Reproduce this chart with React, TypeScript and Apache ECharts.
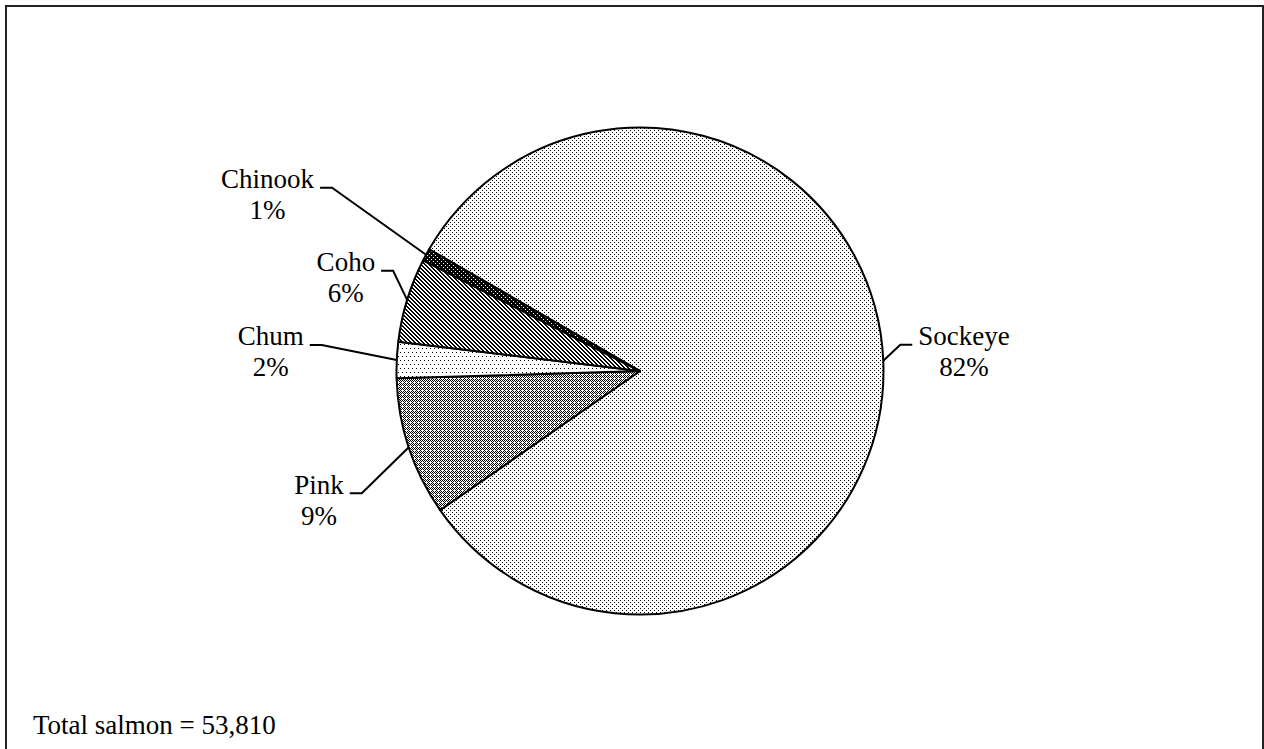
import React, { useEffect, useRef } from "react";
import * as echarts from "echarts";

// ---- data ----
const SPECIES = ["Sockeye", "Pink", "Chum", "Coho", "Chinook"];
const COUNTS = [44120, 4950, 1290, 3010, 440];
const TOTAL_CAPTION = "Total salmon";

// ---- fill patterns (1 = black pixel) ----
const PATTERN_ROWS: string[][] = [
  ["1000", "0000", "0010", "0000"], // Sockeye: fine dots
  ["1010", "0101", "1000", "0101"], // Pink: dense diamond lattice
  ["1000", "0000", "0000", "0000", "0010", "0000", "0000", "0000"], // Chum: sparse dots
  ["1100", "0110", "0011", "1001"], // Coho: downward diagonal stripes
  ["1111", "1011", "1111", "1110"], // Chinook: dark with white dots
];

// leader elbow offsets from the slice's edge anchor (label placement)
const LEADER_ELBOW: number[][] = [
  [17, -16],
  [-47, 46],
  [-75, -15],
  [-14, -29],
  [-94, -67],
];
const LEN2 = 12;
const GAP = 6;
const BASELINE_SHIFT = 7;

const FONT = "'Liberation Serif', 'Times New Roman', serif";

function makePattern(rows: string[]) {
  const h = rows.length;
  const w = rows[0].length;
  const c = document.createElement("canvas");
  c.width = w;
  c.height = h;
  const ctx = c.getContext("2d")!;
  ctx.fillStyle = "#ffffff";
  ctx.fillRect(0, 0, w, h);
  ctx.fillStyle = "#000000";
  for (let y = 0; y < h; y++) {
    for (let x = 0; x < w; x++) {
      if (rows[y][x] === "1") ctx.fillRect(x, y, 1, 1);
    }
  }
  return { image: c.toDataURL(), repeat: "repeat", imageWidth: w, imageHeight: h } as any;
}

export default function App() {
  const ref = useRef<HTMLDivElement>(null);
  useEffect(() => {
    document.body.style.margin = "0";
    document.body.style.overflow = "hidden";
    if (!ref.current) return;
    const chart = echarts.init(ref.current, null, { renderer: "svg" });
    const total = COUNTS.reduce((a, b) => a + b, 0);
    const patterns = PATTERN_ROWS.map(makePattern);

    chart.setOption({
      animation: false,
      backgroundColor: "#ffffff",
      graphic: [
        {
          type: "rect",
          silent: true,
          z: 0,
          shape: { x: 6, y: 6, width: 1257, height: 800 },
          style: { fill: "none", stroke: "#222222", lineWidth: 2 },
        },
        {
          type: "text",
          silent: true,
          x: 33,
          y: 725,
          style: {
            text: `${TOTAL_CAPTION} = ${total.toLocaleString("en-US")}`,
            font: `27px ${FONT}`,
            fill: "#000000",
            verticalAlign: "middle",
            align: "left",
          },
        },
      ],
      series: [
        {
          type: "pie",
          silent: true,
          center: [640, 371],
          radius: 243.5,
          startAngle: 150,
          clockwise: true,
          percentPrecision: 0,
          avoidLabelOverlap: false,
          emphasis: { disabled: true },
          itemStyle: { borderColor: "#000000", borderWidth: 2 },
          label: {
            show: true,
            position: "outside",
            color: "#000000",
            formatter: "{t|{b}}\n{t|{d}%}",
            rich: {
              t: {
                align: "center",
                fontFamily: FONT,
                fontSize: 27,
                lineHeight: 31,
                color: "#000000",
              },
            },
          },
          labelLine: {
            show: true,
            length: 20,
            length2: LEN2,
            lineStyle: { color: "#000000", width: 2 },
          },
          labelLayout: (params: any) => {
            const pts = params.labelLinePoints;
            if (!pts) return {};
            const ax = pts[0][0];
            const ay = pts[0][1];
            const off = LEADER_ELBOW[params.dataIndex];
            const ex = ax + off[0];
            const ey = ay + off[1];
            const dir = params.align === "right" ? -1 : 1;
            const endX = ex + dir * LEN2;
            return {
              x: endX + dir * GAP,
              y: ey + BASELINE_SHIFT,
              labelLinePoints: [
                [ax, ay],
                [ex, ey],
                [endX, ey],
              ],
            };
          },
          data: SPECIES.map((name, i) => ({
            name,
            value: COUNTS[i],
            itemStyle: { color: patterns[i] },
          })),
        },
      ],
    });
    return () => chart.dispose();
  }, []);
  return <div ref={ref} style={{ width: 1264, height: 749 }} />;
}
